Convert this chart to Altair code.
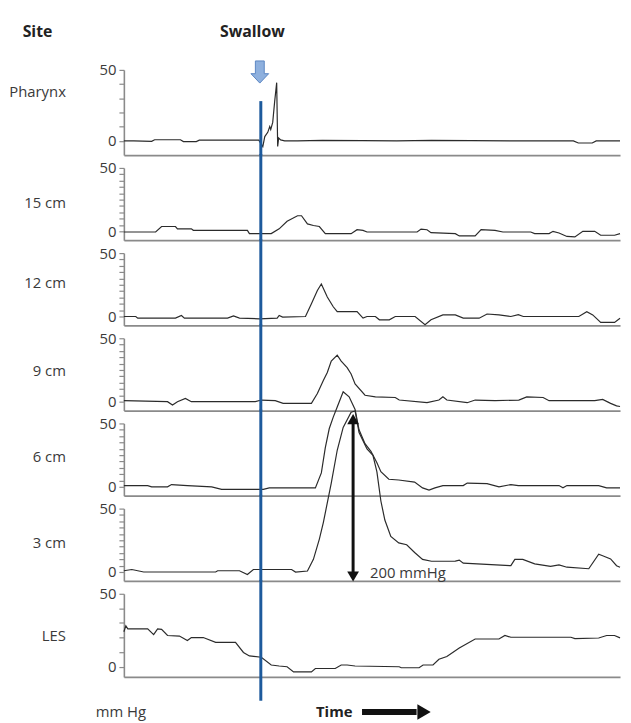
import altair as alt
import pandas as pd

# ---------------- data (time in arbitrary units 0..100, pressure in mmHg) ----------------
SITES = ["Pharynx", "15 cm", "12 cm", "9 cm", "6 cm", "3 cm", "LES"]

PHARYNX_T = [0, 2, 5.6, 6.2, 11.4, 12.0, 14.6, 15.2, 27.2, 28.0, 28.4, 29.0, 29.4, 29.6, 30.0, 30.4,
             30.8, 31.0, 31.2, 31.6, 32.4, 35, 40, 48, 55, 62, 70, 80, 90.6, 91.6, 94.4, 95.2, 100]
PHARYNX_P = [0, 0, -0.3, 0.8, 0.8, -0.5, -0.5, 0.5, 0.5, -4, 3, 6, 10, 8, 13, 28,
             41, -4, 2, 0.7, 0, 0, 0.4, 0.2, 0, 0.4, 0.2, 0, 0, -1.5, -1.5, 0, 0]

CM15_T = [0, 6.4, 7.6, 10.4, 10.8, 13.6, 14.0, 24.9, 25.3, 29.7, 31.3, 32.9, 35.0, 35.8, 37.0, 38.2,
          39.4, 40.6, 45.8, 47.0, 48.2, 49.0, 59.1, 59.9, 61.1, 61.9, 66.8, 67.6, 70.8, 72.0, 74.8,
          76.4, 82.0, 82.8, 85.7, 86.5, 87.7, 89.3, 90.9, 92.5, 94.9, 96.1, 98.9, 100]
CM15_P = [-0.5, -0.5, 3.8, 3.8, 2.0, 2.0, 0.8, 0.8, -1.8, -1.8, 2.0, 8.0, 12.3, 12.3, 5.9, 4.6,
          3.8, -1.8, -1.8, 1.3, 0.8, -0.5, -0.5, 1.8, 1.3, -1.0, -1.8, -3.6, -3.6, 1.3, 0.8,
          -0.5, -0.5, -1.8, -1.8, 0.0, -1.3, -4.0, -4.4, 0.0, 0.0, -3.1, -3.1, -1.8]

CM12_T = [0, 2.4, 2.8, 10.4, 11.6, 12.2, 20.9, 22.1, 23.3, 27.3, 30.9, 31.3, 32.0, 36.6, 37.8, 39.0,
          39.8, 41.0, 42.2, 43.0, 47.0, 48.2, 49.0, 50.7, 51.5, 53.5, 54.7, 58.7, 60.7, 61.9, 64.3,
          66.8, 68.4, 71.6, 73.2, 75.6, 78.0, 79.5, 80.5, 91.7, 93.3, 94.5, 96.1, 98.9, 100]
CM12_P = [0, 0, -1.3, -1.3, 0.8, -1.3, -1.3, 0.5, -1.3, -1.8, -1.3, 0.8, -0.5, 0, 10, 20.5,
          25.6, 15.4, 7.7, 3.8, 3.8, -1.3, 0, 0, -2.6, -2.6, 0, 0, -6.4, -2.6, 1.3,
          1.3, -1.3, -1.3, 2.0, 1.3, 0, 1.5, 0, 0, 3.8, 1.3, -4.6, -4.6, -1.3]

CM9_T = [0, 8.8, 9.8, 10.8, 12.4, 13.6, 26.5, 27.7, 30.5, 32.1, 37.8, 39.0, 40.2, 41.0, 41.8, 43.0,
         43.8, 45.0, 45.8, 46.6, 48.6, 50.7, 54.7, 55.5, 61.1, 63.5, 64.3, 65.1, 69.2, 70.8, 74.8,
         79.6, 81.2, 84.5, 85.7, 94.9, 96.5, 98.1, 99.3, 100]
CM9_P = [0.8, 0, -2.6, 0, 2.6, 0, 0, 1.3, 0.8, -1.3, -1.3, 6.4, 16.7, 23, 32, 36.7,
         32, 26.9, 21.8, 14, 5.1, 3.8, 3.3, 1.3, -0.8, 1.3, 3.8, 1.3, -0.8, 1.3, 0.8,
         1.3, 3.8, 3.3, 0.8, 0.8, 1.8, -1.3, -3.3, -3.8]

CM6_T = [0, 4.8, 5.6, 8.8, 9.6, 12.8, 17.7, 19.7, 28.1, 29.3, 38.6, 39.8, 40.6, 41.4, 42.2, 43.0,
         44.2, 45.4, 46.6, 47.4, 48.6, 49.8, 51.0, 51.8, 53.4, 55.4, 58.6, 60.2, 61.5, 62.7, 64.3,
         68.4, 69.2, 73.2, 75.6, 78.0, 79.5, 87.7, 88.5, 89.3, 95.7, 97.3, 100]
CM6_P = [1, 1, 0, 0, 1.8, 1, 0, -2, -2, -0.8, -0.8, 11, 31, 46, 55, 63,
         75, 71, 61, 45, 34, 28, 19, 12, 6, 5.4, 3.8, -0.8, -2.6, -0.8, 1,
         1, 3, 2.6, 0, 1.8, 1, 1, -0.8, 1, 1, -0.8, -0.8]

CM3_T = [0, 1.6, 4.0, 18.5, 18.9, 23.3, 24.9, 26.1, 33.8, 34.6, 37.0, 38.2, 39.4, 40.2, 41.8, 43.0,
         44.2, 45.8, 46.6, 47.4, 49.0, 50.2, 51.0, 51.8, 52.6, 53.8, 55.4, 57.0, 58.6, 60.2, 62.0,
         66.8, 67.6, 68.4, 78.0, 78.8, 80.4, 82.8, 86.0, 87.7, 89.3, 93.7, 95.7, 96.5, 98.1, 99.3, 100]
CM3_P = [1, 2, 0, 0, 1, 1, -2, 2, 2, 0, 0.8, 10, 26, 39, 70, 96,
         114, 126, 127, 110, 97, 92, 79, 56, 41, 28, 23, 21.5, 15.4, 10, 8.5,
         8.6, 9.4, 7, 5, 10, 10, 6.4, 4.4, 5.6, 3.8, 2.6, 14, 12.8, 10.3, 5, 3.8]

LES_T = [0, 0.4, 0.8, 4.8, 6.0, 6.8, 7.6, 8.8, 11.2, 12.8, 13.6, 16.0, 18.5, 22.5, 24.1, 25.3,
         27.7, 29.7, 31.3, 32.9, 34.2, 37.8, 38.6, 42.6, 43.8, 45.0, 46.6, 55.5, 55.9, 59.5, 60.3,
         62.3, 63.5, 65.1, 67.6, 70.8, 75.6, 76.8, 78.0, 90.1, 90.9, 95.7, 97.3, 98.9, 100]
LES_P = [24, 28, 26, 26, 22, 26, 25.6, 21.4, 21, 18, 20, 20, 16.7, 16.7, 9.8, 7.4,
         6.5, 1.2, 0.5, 0, -3.5, -3.5, -1.2, -1.2, 1.2, 1.2, 0.5, 0, -0.7, -0.7, 1.2,
         1.2, 5.1, 7, 12.8, 19, 19, 21.4, 20.2, 20.2, 19.3, 19.7, 21.4, 21.4, 19.8]

TRACE_T = [PHARYNX_T, CM15_T, CM12_T, CM9_T, CM6_T, CM3_T, LES_T]
TRACE_P = [PHARYNX_P, CM15_P, CM12_P, CM9_P, CM6_P, CM3_P, LES_P]

SWALLOW_T = 27.6          # time of the swallow
PEAK_LABEL = "200 mmHg"

# ---------------- layout / style ----------------
W = 501
HEIGHTS = [86, 73, 73, 73, 73, 73, 84]
YMIN = [-10, -7, -7, -7, -7, -7, -7]
TICK_STEP = [10, 5, 5, 5, 5, 5, 10]
TITLE_Y = [22, 35, 30, 33, 33, 34, 42]
GAP = 13

FONT = "Open Sans"
TEXT = "#3a3a3a"
AXIS = "#8a8a8a"
TRACE = "#2b2b2b"
BLUE = "#1d5a9c"


def pt(t, p, **extra):
    d = {"t": [t], "p": [p]}
    for k, v in extra.items():
        d[k] = [v]
    return pd.DataFrame(d)


def text(t, p, label, size=15, weight="normal", align="center", color=TEXT):
    return alt.Chart(pt(t, p, label=label)).mark_text(
        font=FONT, fontSize=size, fontWeight=weight, align=align, baseline="middle", color=color
    ).encode(x="t:Q", y="p:Q", text="label:N")


def panel(i):
    h, lo = HEIGHTS[i], YMIN[i]
    ppu = h / (50 - lo)
    df = pd.DataFrame({"t": TRACE_T[i], "p": TRACE_P[i]})
    xenc = alt.X("t:Q", scale=alt.Scale(domain=[0, 100], nice=False, zero=False),
                 axis=alt.Axis(title=None, labels=False, ticks=False, grid=False,
                               domainColor=AXIS, domainWidth=1.8))
    yenc = alt.Y("p:Q", scale=alt.Scale(domain=[lo, 50], nice=False, zero=False),
                 axis=alt.Axis(values=list(range(0, 51, TICK_STEP[i])), tickCount=50,
                               labelExpr="datum.value == 0 || datum.value == 50 ? datum.label : ''",
                               labelOverlap=False, grid=False,
                               tickSize=5, tickWidth=1.2, tickColor=AXIS,
                               domainColor=AXIS, domainWidth=1.6,
                               labelFont=FONT, labelFontSize=15, labelColor=TEXT, labelPadding=3,
                               title=SITES[i], titleAngle=0, titleAlign="right",
                               titleBaseline="middle", titleX=-59, titleY=TITLE_Y[i],
                               titleFont=FONT, titleFontSize=15, titleFontWeight="normal",
                               titleColor=TEXT))
    layers = [alt.Chart(df).mark_line(color=TRACE, strokeWidth=1.2).encode(x=xenc, y=yenc)]

    # blue swallow line
    top = 28 if i == 0 else 50 + (GAP + 1) / ppu
    bot = lo - 24 / ppu if i == len(SITES) - 1 else lo
    layers.append(alt.Chart(pt(SWALLOW_T, bot, p2=top)).mark_rule(color=BLUE, strokeWidth=3)
                  .encode(x="t:Q", y="p:Q", y2="p2:Q"))

    if i == 0:
        layers.append(text(-17.4, 76.5, "Site", size=16, weight="bold", color="#222"))
        layers.append(text(25.9, 76.5, "Swallow", size=16, weight="bold", color="#222"))
        arrow = "M-0.4,-1L0.4,-1L0.4,0.15L0.8,0.15L0,1L-0.8,0.15L-0.4,0.15Z"
        layers.append(alt.Chart(pt(27.4, 48.5)).mark_point(
            shape=arrow, size=500, filled=True, fill="#8eb0de", stroke="#5b86c2",
            strokeWidth=1, opacity=1).encode(x="t:Q", y="p:Q"))
    if SITES[i] == "3 cm":
        xa = 46.2
        layers.append(alt.Chart(pt(xa, -3.5, p2=120)).mark_rule(color="#111", strokeWidth=3)
                      .encode(x="t:Q", y="p:Q", y2="p2:Q"))
        layers.append(alt.Chart(pt(xa, 120.5)).mark_point(
            shape="triangle-up", size=140, filled=True, color="#111", opacity=1).encode(x="t:Q", y="p:Q"))
        layers.append(alt.Chart(pt(xa, -3.5)).mark_point(
            shape="triangle-down", size=140, filled=True, color="#111", opacity=1).encode(x="t:Q", y="p:Q"))
        layers.append(text(49.6, -1, PEAK_LABEL, align="left"))
    if SITES[i] == "LES":
        layers.append(text(-0.6, -31, "mm Hg"))
        layers.append(text(42.4, -31, "Time", weight="bold", color="#222"))
        layers.append(alt.Chart(pt(48, -31, t2=59)).mark_rule(color="#111", strokeWidth=6)
                      .encode(x="t:Q", x2="t2:Q", y="p:Q"))
        layers.append(alt.Chart(pt(60.5, -31)).mark_point(
            shape="triangle-right", size=240, filled=True, color="#111", opacity=1).encode(x="t:Q", y="p:Q"))

    return alt.layer(*layers).properties(width=W, height=h)


chart = alt.vconcat(*[panel(i) for i in range(len(SITES))], spacing=GAP, bounds="flush").properties(
    padding={"left": 0, "top": 12, "right": 0, "bottom": 0}
).configure_view(stroke="transparent").configure_axis(labelOverlap=False, grid=False)

chart.save("out.html", embed_options={"renderer": "svg", "actions": False})
